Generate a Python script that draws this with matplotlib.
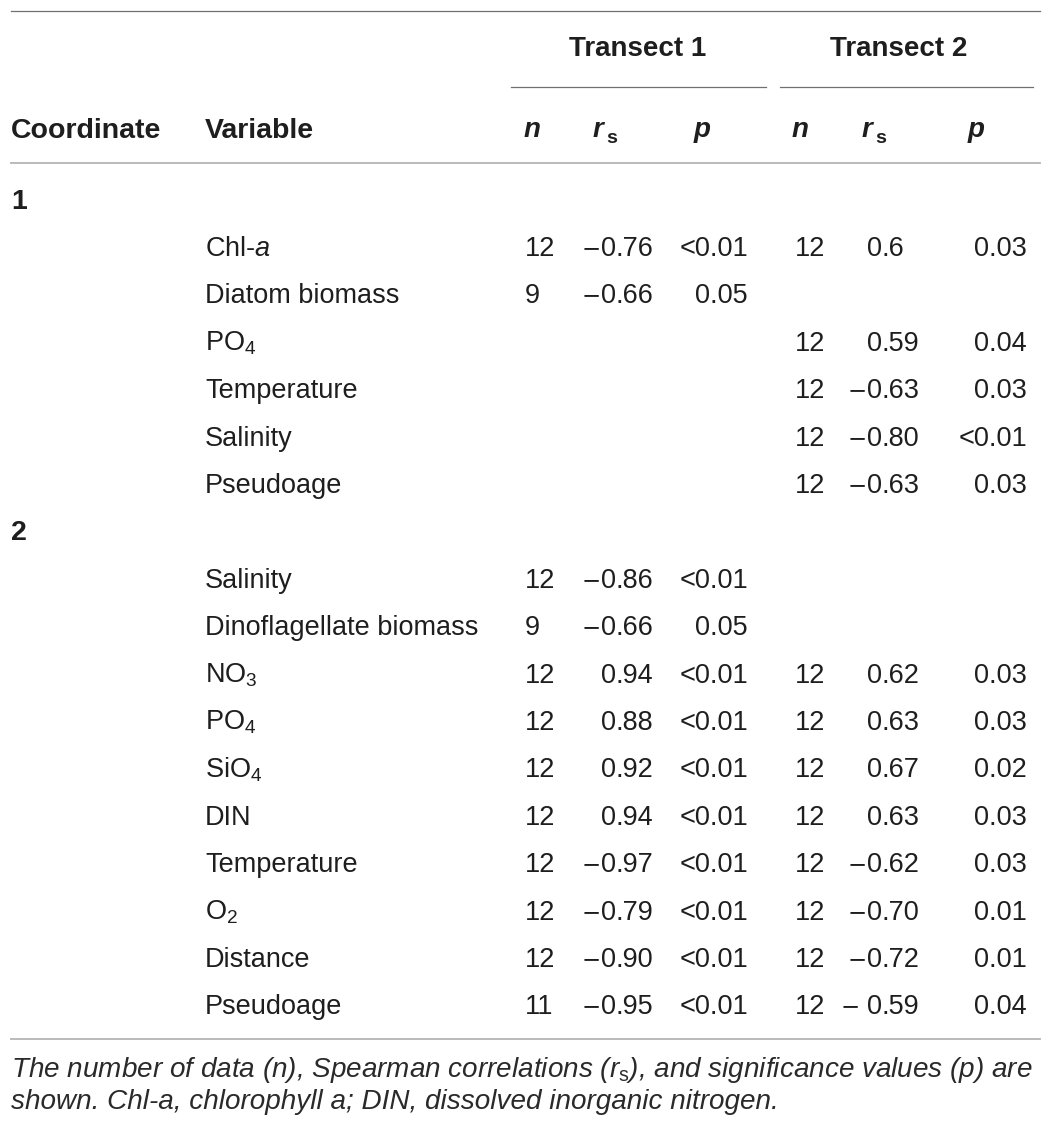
import matplotlib
matplotlib.use("Agg")
import matplotlib.pyplot as plt

# Fonts - Helvetica-like look
plt.rcParams['font.family'] = ['Liberation Sans', 'DejaVu Sans']
plt.rcParams['mathtext.fontset'] = 'custom'
plt.rcParams['mathtext.rm'] = 'Liberation Sans'
plt.rcParams['mathtext.it'] = 'Liberation Sans:italic'
plt.rcParams['mathtext.bf'] = 'Liberation Sans:bold'

# Table data (group 1 / group 2 of the coordinate)
groups = ["1", "2"]

vars_1 = ["Chl-$a$", "Diatom biomass", "PO$_4$", "Temperature", "Salinity", "Pseudoage"]
t1_n_1 = ["12", "9", "", "", "", ""]
t1_rs_1 = ["\u22120.76", "\u22120.66", "", "", "", ""]
t1_p_1 = ["<0.01", "0.05", "", "", "", ""]
t2_n_1 = ["12", "", "12", "12", "12", "12"]
t2_rs_1 = ["0.6", "", "0.59", "\u22120.63", "\u22120.80", "\u22120.63"]
t2_p_1 = ["0.03", "", "0.04", "0.03", "<0.01", "0.03"]

vars_2 = ["Salinity", "Dinoflagellate biomass", "NO$_3$", "PO$_4$", "SiO$_4$", "DIN",
          "Temperature", "O$_2$", "Distance", "Pseudoage"]
t1_n_2 = ["12", "9", "12", "12", "12", "12", "12", "12", "12", "11"]
t1_rs_2 = ["\u22120.86", "\u22120.66", "0.94", "0.88", "0.92", "0.94",
           "\u22120.97", "\u22120.79", "\u22120.90", "\u22120.95"]
t1_p_2 = ["<0.01", "0.05", "<0.01", "<0.01", "<0.01", "<0.01",
          "<0.01", "<0.01", "<0.01", "<0.01"]
t2_n_2 = ["", "", "12", "12", "12", "12", "12", "12", "12", "12"]
t2_rs_2 = ["", "", "0.62", "0.63", "0.67", "0.63",
           "\u22120.62", "\u22120.70", "\u22120.72", "\u2212 0.59"]
t2_p_2 = ["", "", "0.03", "0.03", "0.02", "0.03", "0.03", "0.01", "0.01", "0.04"]

transects = ["Transect 1", "Transect 2"]
caption_1 = r"The number of data (n), Spearman correlations ($r_\mathrm{s}$), and significance values (p) are"
caption_2 = "shown. Chl-a, chlorophyll a; DIN, dissolved inorganic nitrogen."

W, H = 1051, 1131
fig = plt.figure(figsize=(W / 100, H / 100), dpi=100)
ax = fig.add_axes([0, 0, 1, 1])
ax.set_xlim(0, W)
ax.set_ylim(H, 0)
ax.axis('off')

txt = '#1e1e1e'
dark_line = '#707070'
light_line = '#b4b4b4'
fs = 19.5
fs_b = 20.5

# column positions (pixels)
x_coord = 11
x_var = 205
x_n = [525, 795]
x_rs = [616, 882]    # decimal point
x_p = [748, 1027]
x_nh = [532, 800]
x_rh = [593, 862]
x_ph = [702, 976]

# rules
ax.plot([11, 1040], [10.5, 10.5], color=dark_line, lw=0.9)
ax.plot([511, 766], [87, 87], color=dark_line, lw=0.9)
ax.plot([780, 1033], [87, 87], color=dark_line, lw=0.9)
ax.plot([11, 1040], [163, 163], color=light_line, lw=1.3)
ax.plot([11, 1040], [1038.5, 1038.5], color=light_line, lw=1.3)

# header
ax.text(638, 56, transects[0], ha='center', va='baseline', fontsize=20,
        fontweight='bold', color=txt)
ax.text(899, 56, transects[1], ha='center', va='baseline', fontsize=20,
        fontweight='bold', color=txt)
ax.text(x_coord, 138, "Coordinate", ha='left', va='baseline', fontsize=fs_b,
        fontweight='bold', color=txt)
ax.text(x_var, 138, "Variable", ha='left', va='baseline', fontsize=fs_b,
        fontweight='bold', color=txt)
for k in range(2):
    ax.text(x_nh[k], 137, "n", ha='center', va='baseline', fontsize=20,
            fontweight='bold', fontstyle='italic', color=txt)
    ax.text(x_rh[k], 137, "r", ha='left', va='baseline', fontsize=20,
            fontweight='bold', fontstyle='italic', color=txt)
    ax.text(x_rh[k] + 13, 143, "s", ha='left', va='baseline', fontsize=14,
            fontweight='bold', color=txt)
    ax.text(x_ph[k], 137, "p", ha='center', va='baseline', fontsize=20,
            fontweight='bold', fontstyle='italic', color=txt)


def put_rs(x, y, s):
    if s == "":
        return
    sign = ""
    if s.startswith("\u2212"):
        sign = s[0]
        gap = 7 if s[1] == " " else 0
        s = s[1:].strip()
    a, b = s.split(".")
    ax.text(x, y, a, ha='right', va='baseline', fontsize=fs, color=txt)
    ax.text(x, y, "." + b, ha='left', va='baseline', fontsize=fs, color=txt)
    if sign:
        # wider minus, as in the source typeface
        ax.text(x - 15 * len(a) - gap, y - 1, sign, ha='right', va='baseline',
                fontsize=16.5, family=['DejaVu Sans'], color=txt)


pitch = 47.4
base0 = 256
row = -1
all_rows = [
    (vars_1, t1_n_1, t1_rs_1, t1_p_1, t2_n_1, t2_rs_1, t2_p_1),
    (vars_2, t1_n_2, t1_rs_2, t1_p_2, t2_n_2, t2_rs_2, t2_p_2),
]
for g, block in zip(groups, all_rows):
    y = base0 + row * pitch
    ax.text(x_coord, y, g, ha='left', va='baseline', fontsize=fs_b,
            fontweight='bold', color=txt)
    row += 1
    vs, n1, r1, p1, n2, r2, p2 = block
    for i in range(len(vs)):
        y = base0 + row * pitch
        ax.text(x_var, y, vs[i], ha='left', va='baseline', fontsize=fs, color=txt)
        ax.text(x_n[0], y, n1[i], ha='left', va='baseline', fontsize=fs, color=txt)
        put_rs(x_rs[0], y, r1[i])
        ax.text(x_p[0], y, p1[i], ha='right', va='baseline', fontsize=fs, color=txt)
        ax.text(x_n[1], y, n2[i], ha='left', va='baseline', fontsize=fs, color=txt)
        put_rs(x_rs[1], y, r2[i])
        ax.text(x_p[1], y, p2[i], ha='right', va='baseline', fontsize=fs, color=txt)
        row += 1

# footnote
ax.text(11, 1077, caption_1, ha='left', va='baseline', fontsize=20.1,
        fontstyle='italic', color='#2a2a2a')
ax.text(11, 1109, caption_2, ha='left', va='baseline', fontsize=20.1,
        fontstyle='italic', color='#2a2a2a')

fig.savefig("out.png", dpi=100)
